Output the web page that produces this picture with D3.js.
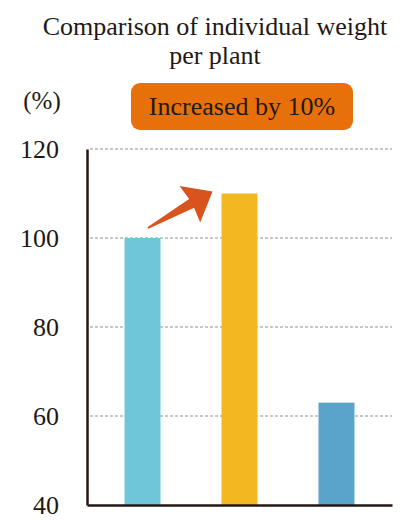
<!DOCTYPE html>
<html>
<head>
<meta charset="utf-8">
<script src="https://cdn.jsdelivr.net/npm/d3@7"></script>
<style>
  body { margin: 0; background: #fff; }
  svg text { font-family: "Liberation Serif", serif; fill: #231815; }
</style>
</head>
<body>
<div id="chart"></div>
<script>
// data
var categories = ["A", "B", "C"];
var values = [100, 110, 63];
var barColors = ["#6fc6d9", "#f3b81f", "#5aa4c9"];
var yTicks = [40, 60, 80, 100, 120];
var titleLines = ["Comparison of individual weight", "per plant"];
var unitLabel = "(%)";
var badgeText = "Increased by 10%";

var serif = "Liberation Serif";
var svgWidth = 407, svgHeight = 520;
var margin = { top: 149, right: 15, bottom: 15, left: 87 };
var width = svgWidth - margin.left - margin.right;
var height = svgHeight - margin.top - margin.bottom;

var svg = d3.select("#chart").append("svg")
  .attr("width", svgWidth)
  .attr("height", svgHeight);

var chartGroup = svg.append("g")
  .attr("transform", `translate(${margin.left}, ${margin.top})`);

var xScale = d3.scaleBand()
  .domain(categories)
  .range([0, width])
  .paddingInner(0.629)
  .paddingOuter(0.387);

var yScale = d3.scaleLinear()
  .domain([40, 120])
  .range([height, 0]);

// gridlines
chartGroup.selectAll(".grid")
  .data(yTicks.filter(d => d > 40))
  .enter()
  .append("line")
  .attr("x1", 3)
  .attr("x2", width)
  .attr("y1", d => yScale(d))
  .attr("y2", d => yScale(d))
  .attr("stroke", "#8f8f8f")
  .attr("stroke-width", 1)
  .attr("stroke-dasharray", "3,2");

// bars
chartGroup.selectAll(".bar")
  .data(values)
  .enter()
  .append("rect")
  .attr("x", (d, i) => xScale(categories[i]))
  .attr("y", d => yScale(d))
  .attr("width", xScale.bandwidth())
  .attr("height", d => height - yScale(d))
  .attr("fill", (d, i) => barColors[i]);

// axes
var leftAxis = d3.axisLeft(yScale).tickValues(yTicks).tickSize(0).tickPadding(28);
var yAxisG = chartGroup.append("g").call(leftAxis).attr("font-family", serif);
yAxisG.select(".domain").attr("stroke", "#231815").attr("stroke-width", 2.5);
yAxisG.selectAll("text")
  .attr("font-size", 26)
  .attr("font-family", serif)
  .attr("fill", "#231815");

var bottomAxis = d3.axisBottom(xScale).tickSize(0).tickFormat("");
var xAxisG = chartGroup.append("g")
  .attr("transform", `translate(0, ${height})`)
  .call(bottomAxis);
xAxisG.select(".domain").attr("stroke", "#231815").attr("stroke-width", 2.5);

// title
svg.selectAll(".title")
  .data(titleLines)
  .enter()
  .append("text")
  .attr("x", 215)
  .attr("y", (d, i) => 35 + i * 29)
  .attr("text-anchor", "middle")
  .attr("font-family", serif)
  .attr("font-size", 26)
  .text(d => d);

svg.append("text")
  .attr("x", 42)
  .attr("y", 109)
  .attr("text-anchor", "middle")
  .attr("font-family", serif)
  .attr("font-size", 25)
  .text(unitLabel);

// badge
svg.append("rect")
  .attr("x", 131)
  .attr("y", 83)
  .attr("width", 222)
  .attr("height", 47)
  .attr("rx", 9)
  .attr("fill", "#e8700b");

svg.append("text")
  .attr("x", 242)
  .attr("y", 115)
  .attr("text-anchor", "middle")
  .attr("font-family", serif)
  .attr("font-size", 26)
  .text(badgeText);

// arrow from bar 1 to bar 2
var x0 = margin.left + xScale(categories[0]) + xScale.bandwidth() * 0.65;
var y0 = margin.top + yScale(values[0]) - 10;
var x1 = margin.left + xScale(categories[1]) - 9;
var y1 = margin.top + yScale(values[1]) - 2;
var ang = Math.atan2(y1 - y0, x1 - x0);
var len = Math.hypot(x1 - x0, y1 - y0);
var headLen = 24, headW = 21, shaftW = 10;
var pts = [
  [0, -1], [len - headLen, -shaftW / 2], [len - headLen - 2, -headW],
  [len, 0], [len - headLen - 2, headW], [len - headLen, shaftW / 2], [0, 1]
];
svg.append("path")
  .attr("d", d3.line()(pts))
  .attr("transform", `translate(${x0}, ${y0}) rotate(${ang * 180 / Math.PI})`)
  .attr("fill", "#d9531c");
</script>
</body>
</html>
